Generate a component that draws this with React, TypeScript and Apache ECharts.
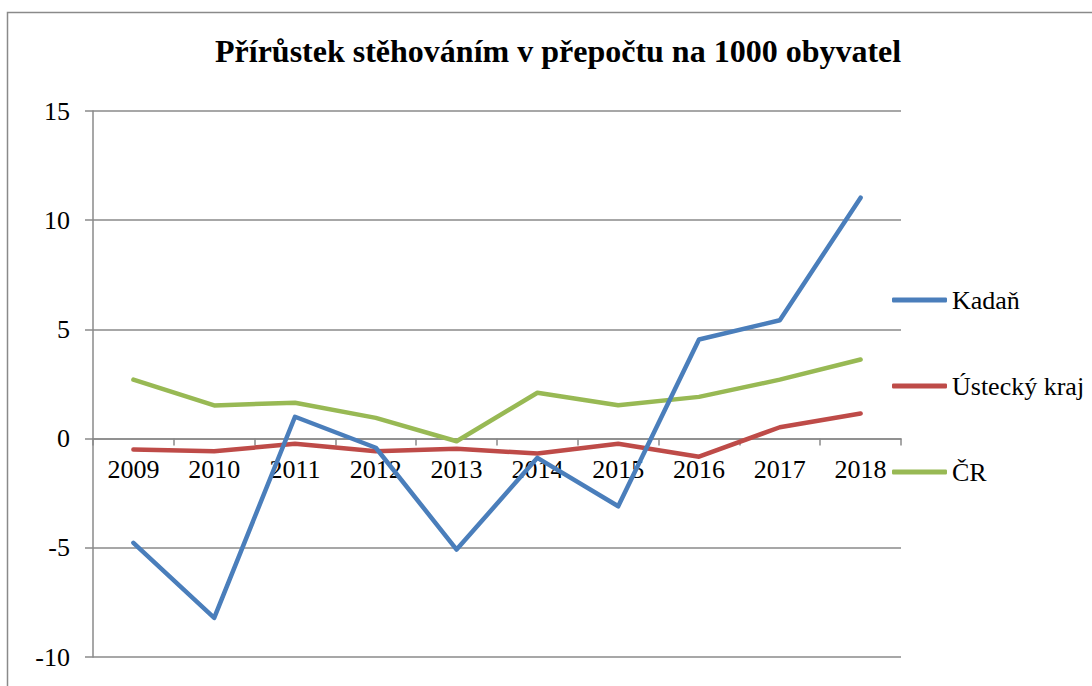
import React, { useEffect, useRef } from "react";
import * as echarts from "echarts";

const years = ["2009", "2010", "2011", "2012", "2013", "2014", "2015", "2016", "2017", "2018"];
const kadan = [-4.77, -8.21, 1.0, -0.42, -5.08, -0.88, -3.1, 4.54, 5.42, 11.03];
const ustecky = [-0.5, -0.58, -0.24, -0.58, -0.47, -0.68, -0.24, -0.83, 0.52, 1.15];
const cr = [2.7, 1.52, 1.64, 0.95, -0.12, 2.1, 1.53, 1.91, 2.7, 3.62];
const seriesNames = ["Kadaň", "Ústecký kraj", "ČR"];
const colors = ["#4A7EBB", "#BE4B48", "#98B954"];
const titleText = "Přírůstek stěhováním v přepočtu na 1000 obyvatel";
const yMin = -10;
const yMax = 15;
const yStep = 5;

const FONT = "Liberation Serif, Times New Roman, serif";
const GRAY = "#8a8a8a";

const GRID_TOP = 111;
const GRID_BOTTOM = 29;
const H = 686;

const labelText = { fontFamily: FONT, fontSize: 26, fontWeight: "normal", fontStyle: "normal", color: "#000" };

export default function App() {
  const ref = useRef<HTMLDivElement>(null);
  useEffect(() => {
    document.body.style.margin = "0";
    if (!ref.current) return;
    const chart = echarts.init(ref.current, undefined, { renderer: "svg" });
    const data = [kadan, ustecky, cr];
    const gridH = H - GRID_TOP - GRID_BOTTOM;
    const zeroOffset = -((0 - yMin) / (yMax - yMin)) * gridH;
    chart.setOption({
      animation: false,
      backgroundColor: "#ffffff",
      textStyle: { fontFamily: FONT, fontWeight: "normal", fontStyle: "normal" },
      title: {
        text: titleText,
        left: 210,
        top: 28,
        textStyle: { fontFamily: FONT, fontSize: 32, fontWeight: "bold", color: "#000", lineHeight: 36 },
      },
      graphic: [
        {
          type: "rect",
          shape: { x: 7.5, y: 12.5, width: 1200, height: 800 },
          style: { fill: "none", stroke: GRAY, lineWidth: 1.5 },
          silent: true,
        },
      ],
      legend: {
        orient: "vertical",
        left: 892,
        top: 287,
        padding: 0,
        icon: "roundRect",
        itemWidth: 55,
        itemHeight: 5,
        itemGap: 60,
        textStyle: { ...labelText, lineHeight: 26 },
        data: seriesNames,
      },
      grid: { left: 93, top: GRID_TOP, right: 191, bottom: GRID_BOTTOM, containLabel: false, outerBoundsMode: "none" },
      xAxis: {
        type: "category",
        data: years,
        boundaryGap: true,
        position: "bottom",
        offset: zeroOffset,
        axisLine: { onZero: false, lineStyle: { color: GRAY, width: 1.5 } },
        axisTick: { show: true, length: 7, lineStyle: { color: GRAY, width: 1.5 } },
        axisLabel: { ...labelText, margin: 18, interval: 0 },
        splitLine: { show: false },
      },
      yAxis: {
        type: "value",
        min: yMin,
        max: yMax,
        interval: yStep,
        axisLine: { show: true, lineStyle: { color: GRAY, width: 1.5 } },
        axisTick: { show: true, length: 8, lineStyle: { color: GRAY, width: 1.5 } },
        axisLabel: { ...labelText, margin: 23 },
        splitLine: { show: true, lineStyle: { color: GRAY, width: 1.5 } },
      },
      series: seriesNames.map((name, i) => ({
        name,
        type: "line",
        data: data[i],
        symbol: "none",
        showSymbol: false,
        color: colors[i],
        lineStyle: { color: colors[i], width: 4.5, cap: "round", join: "round" },
        z: 3 - i,
      })),
    });
    return () => chart.dispose();
  }, []);
  return <div ref={ref} style={{ width: 1092, height: 686 }} />;
}
